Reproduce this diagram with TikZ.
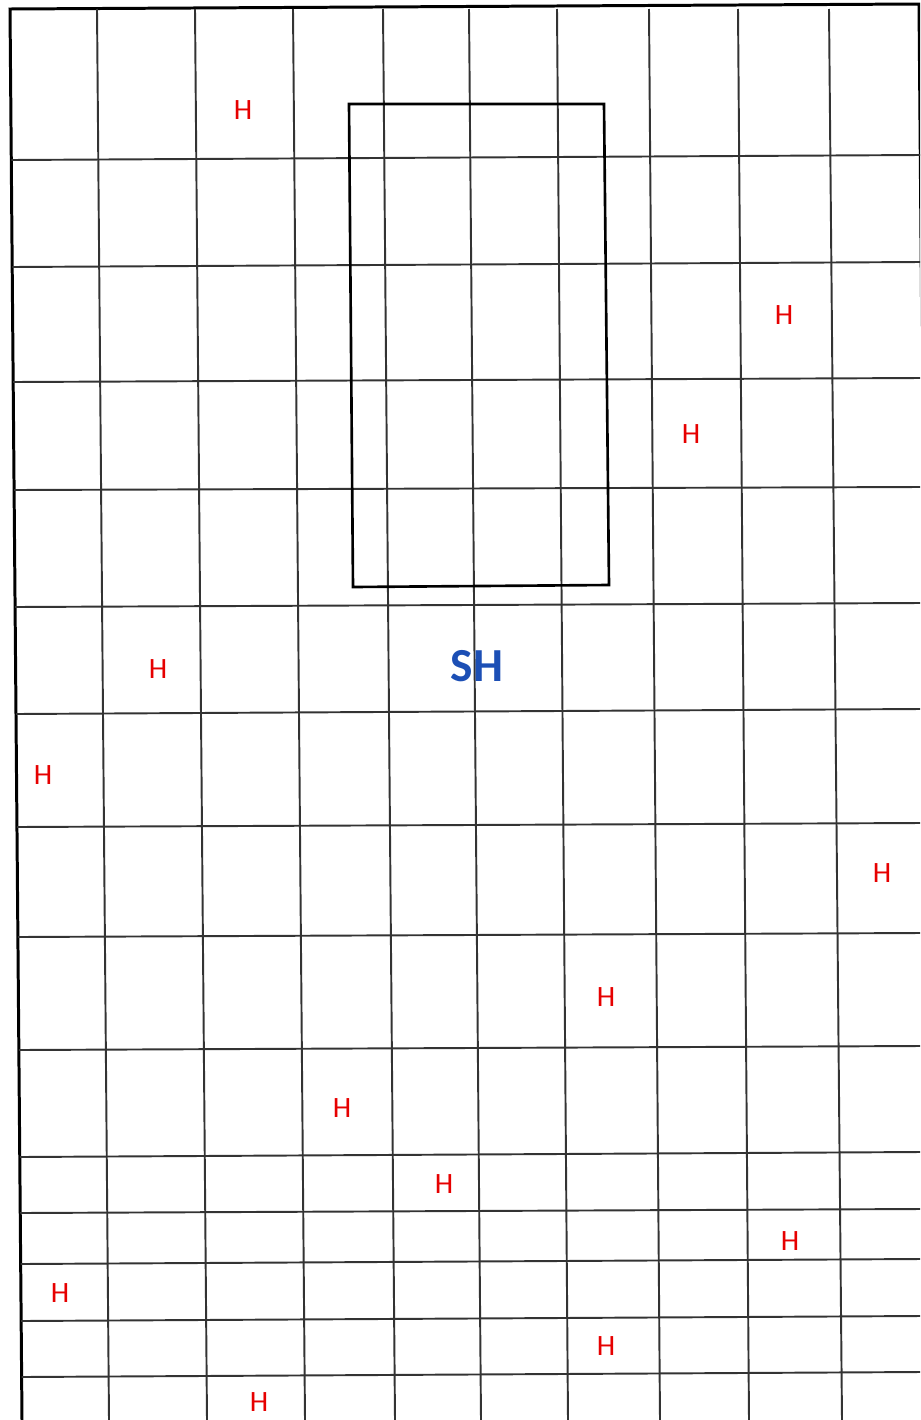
\documentclass[tikz,border=0pt]{standalone}
\usepackage{fontspec}
\setmainfont{Carlito}
\definecolor{hred}{HTML}{E60000}
\definecolor{shblue}{HTML}{1C4FB5}

\begin{document}
\begin{tikzpicture}[x=0.02cm,y=-0.02cm,line width=1.1pt,
  gridline/.style={black!80},
  hmark/.style={text=hred,font=\fontsize{16.8}{18}\selectfont}]
\useasboundingbox (0,0) rectangle (920,1420);
\clip (0,0) rectangle (920,1420);
% frame (scan is slightly tilted)
\draw[line width=1.7pt] (22,1420)--(10,9)--(919,4)--(931,1420);
\foreach \t/\b in {97/109,195/207,293/305,383/395,469/481,557/568,649/660,738/749,829/842}{\draw[gridline] (\t,9)--(\b,1420);}
\foreach \l/\r in {160/155,267/262,382/378,490/487,607/603,714/709,827/823,937/933,1050/1046,1157/1152,1213/1209,1264/1259,1321/1316,1377/1372}{\draw[gridline] ({10+\l/1420*12},\l)--(920,\r);}
\draw[line width=1.5pt] (349,104)--(604,104)--(609,585)--(353,587)--cycle;
% marks
\foreach \x/\y [count=\i] in {243/110,784/315,691/434,158/669,43/775,882/873,606/997,342/1108,444/1184,790/1241,60/1293,606/1346,259/1402}{\node[hmark] (h\i) at (\x,\y) {H};}
\node[text=shblue,font=\bfseries\fontsize{27}{30}\selectfont] (sh) at (477,666) {SH};
\end{tikzpicture}
\end{document}
